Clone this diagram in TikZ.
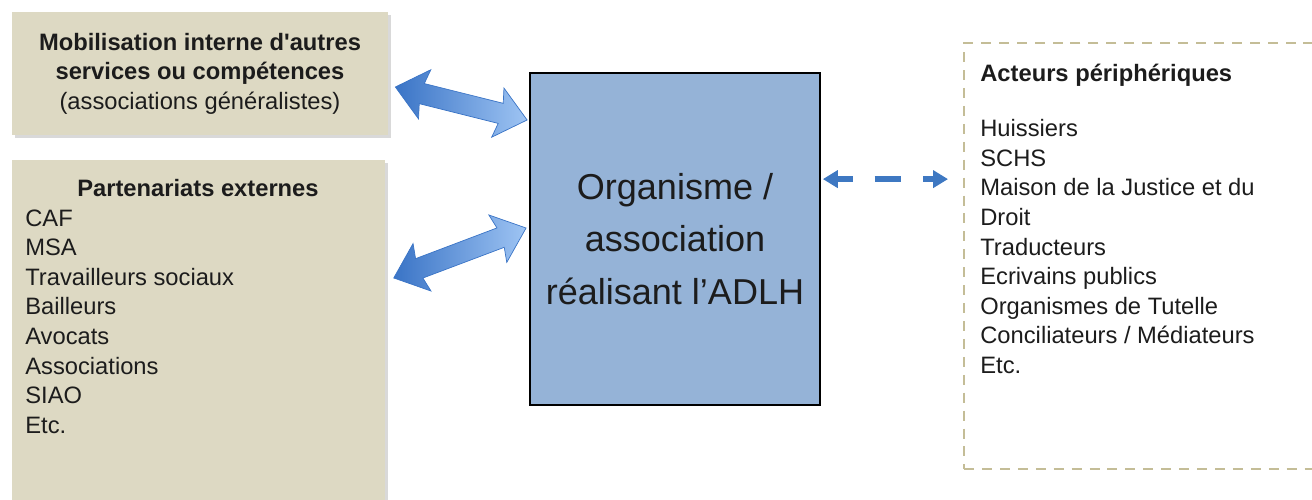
\documentclass[tikz,border=0pt]{standalone}
\usepackage{fontspec}
\setmainfont{Liberation Sans}
\usetikzlibrary{positioning,calc,shapes.arrows,shadows,arrows.meta}

\definecolor{tanfill}{HTML}{DDD9C3}
\definecolor{tandash}{HTML}{C4BD97}
\definecolor{orgblue}{HTML}{95B3D7}
\definecolor{arrdark}{HTML}{3A74C6}
\definecolor{arrlight}{HTML}{9EC4F3}
\definecolor{dashblue}{HTML}{3E78C2}
\definecolor{txt}{HTML}{1C1C1C}

\tikzset{
  tanbox/.style={fill=tanfill, inner sep=0pt, drop shadow={opacity=0.3,shadow xshift=0.05cm,shadow yshift=-0.06cm}},
  boxtext/.style={font=\fontsize{13.5}{16.8}\selectfont, text=txt, inner sep=0pt},
  bigtext/.style={font=\fontsize{20.5}{30}\selectfont, text=txt, align=center},
  fatarrow/.style={double arrow, sloped, inner xsep=0pt, inner ysep=0.2cm,
    double arrow head extend=0.3cm, double arrow head indent=0.06cm, double arrow tip angle=80,
    left color=arrdark, right color=arrlight, draw=arrdark, line width=0.4pt},
  dasharrow/.style={dashblue, line width=3.4pt, dash pattern=on 15pt off 12.5pt, dash phase=6pt,
    {Triangle[length=8.5pt,width=9.7pt]}-{Triangle[length=8.5pt,width=9.7pt]}}
}

\begin{document}
\begin{tikzpicture}
\clip (0,0) rectangle (26.24,10);
% boxes
\node [tanbox, boxtext, align=center, minimum width=7.52cm, minimum height=2.46cm] (mob) at (4.0,8.53)
  {\textbf{Mobilisation interne d\textquotesingle autres}\\\textbf{services ou compétences}\\(associations généralistes)};
\node [tanbox, anchor=north west, minimum width=7.46cm, minimum height=7.2cm] (part) at (0.24,6.8) {};
\node [bigtext, fill=orgblue, draw=black, line width=1pt, minimum width=5.8cm, minimum height=6.64cm] (org) at (13.5,5.22)
  {Organisme /\\association\\réalisant l’ADLH};
\node [draw=tandash, line width=1.2pt, dash pattern=on 5.7pt off 4.5pt, anchor=north west,
  minimum width=7.3cm, minimum height=8.52cm] (act) at (19.26,9.16) {};

% texts
\node [boxtext] (parttitle) at (3.96,6.24) {\textbf{Partenariats externes}};
\node [boxtext, align=left, anchor=north west] (partlist) at (0.5,5.81)
  {CAF\\MSA\\Travailleurs sociaux\\Bailleurs\\Avocats\\Associations\\SIAO\\Etc.};
\node [boxtext, align=left, anchor=north west] (actlist) at (19.6,8.73)
  {\textbf{Acteurs périphériques}\\[14.9pt]Huissiers\\SCHS\\Maison de la Justice et du\\Droit\\Traducteurs\\Ecrivains publics\\Organismes de Tutelle\\Conciliateurs / Médiateurs\\Etc.};

% fat arrows
\coordinate (m1) at ($(mob.east)+(0.14,-0.27)$);
\coordinate (o1) at ($(org.west)+(-0.04,2.38)$);
\coordinate (p2) at ($(part.north east)+(0.16,-2.36)$);
\coordinate (o2) at ($(org.west)+(-0.06,0.22)$);
\path let \p1=($(o1)-(m1)$), \n1={veclen(\x1,\y1)} in
  (m1) -- node [fatarrow, minimum height=\n1] (arrmob) {} (o1);
\path let \p1=($(o2)-(p2)$), \n1={veclen(\x1,\y1)} in
  (p2) -- node [fatarrow, minimum height=\n1] (arrpart) {} (o2);

% dashed arrow
\coordinate (d1) at ($(org.north east)+(0.04,-2.14)$);
\coordinate (d2) at ($(d1 -| act.west)+(-0.3,0)$);
\draw [dasharrow] (d1) -- (d2);
\end{tikzpicture}
\end{document}
